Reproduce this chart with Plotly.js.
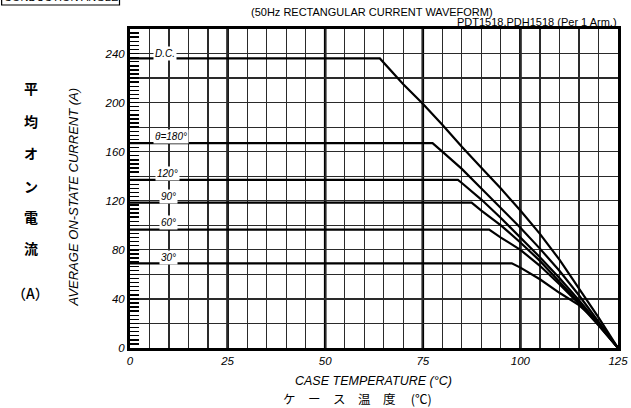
<!DOCTYPE html>
<html>
<head>
<meta charset="utf-8">
<script src="https://cdn.plot.ly/plotly-3.0.1.min.js"></script>
<style>html,body{margin:0;padding:0;background:#fff;}#chart{width:631px;height:408px;}</style>
</head>
<body>
<div id="chart"></div>
<script>
// Case temperature (°C) / average on-state current (A)
const dcT   = [0, 64, 70, 75, 80, 85, 90, 95, 100, 105, 110, 115, 120, 125];
const dcI   = [236, 236, 215, 199, 182, 164, 147, 130, 112, 93, 72, 49, 25, 0];
const a180T = [0, 77.5, 80, 85, 90, 95, 100, 105, 110, 115, 120, 125];
const a180I = [167, 167, 160, 146, 130, 114, 98, 81, 63, 43, 22, 0];
const a120T = [0, 84, 85, 90, 95, 100, 105, 110, 115, 120, 125];
const a120I = [137, 137, 134.5, 121, 106, 90, 74, 57, 39, 20, 0];
const a90T  = [0, 87.5, 90, 95, 100, 105, 110, 115, 120, 125];
const a90I  = [118.5, 118.5, 112, 100, 86, 71, 54, 37, 19, 0];
const a60T  = [0, 92, 95, 100, 105, 110, 115, 120, 125];
const a60I  = [96.5, 96.5, 90, 80, 67, 52, 36, 18.5, 0];
const a30T  = [0, 97.8, 100, 105, 110, 115, 120, 125];
const a30I  = [69, 69, 65.5, 56, 45, 35, 21, 0];

const curveLabels = ['D.C.', 'θ=180°', '120°', '90°', '60°', '30°'];
const labelX = [6, 6, 6.5, 7.5, 7.5, 7.5];
const labelY = [240, 172.5, 142, 123.5, 102, 74];

const xTickVals = [0, 25, 50, 75, 100, 125];
const yTickVals = [0, 20, 40, 60, 80, 100, 120, 140, 160, 180, 200, 220, 240];
const yTickText = ['0', '', '40', '', '80', '', '120', '', '160', '', '200', '', '240'];
const majorX = [25, 50, 75, 100];

const jpChars = ['平', '均', 'オ', 'ン', '電', '流', '（A）'];
const jpY = [88, 121, 153, 186, 217, 248, 293];

const series = [[dcT, dcI], [a180T, a180I], [a120T, a120I], [a90T, a90I], [a60T, a60I], [a30T, a30I]];
const traces = series.map(s => ({
  x: s[0], y: s[1], type: 'scatter', mode: 'lines',
  line: {color: '#000', width: 2.2}, hoverinfo: 'skip', showlegend: false
}));

const W = 631, H = 408;
const ml = 129.5, mr = 13, mt = 29, mb = 60;
const PW = W - ml - mr, PH = H - mt - mb;
const px = x => (x - ml) / PW;
const py = y => 1 - (y - mt) / PH;

const ann = [];
curveLabels.forEach((t, i) => ann.push({
  x: labelX[i], y: labelY[i], xref: 'x', yref: 'y', text: t, showarrow: false,
  xanchor: 'left', yanchor: 'middle', bgcolor: '#fff', borderpad: 1,
  font: {family: 'Liberation Sans, Arial', size: 10, style: 'italic', color: '#000'}
}));
jpChars.forEach((c, i) => ann.push({
  x: px(30), y: py(jpY[i]), xref: 'paper', yref: 'paper', text: c, showarrow: false,
  xanchor: 'center', yanchor: 'middle',
  font: {family: 'Noto Sans CJK JP', size: 14, weight: (i < 6 ? 700 : 500), color: '#000'}
}));
ann.push({
  x: px(72), y: py(197), xref: 'paper', yref: 'paper', text: 'AVERAGE ON-STATE CURRENT (A)',
  showarrow: false, textangle: -90, xanchor: 'center', yanchor: 'middle',
  font: {family: 'Liberation Sans, Arial', size: 13, style: 'italic', color: '#000'}
});
ann.push({
  x: px(373), y: py(381), xref: 'paper', yref: 'paper', text: 'CASE TEMPERATURE (°C)',
  showarrow: false, xanchor: 'center', yanchor: 'middle',
  font: {family: 'Liberation Sans, Arial', size: 12.5, style: 'italic', color: '#000'}
});
ann.push({
  x: px(357), y: py(398), xref: 'paper', yref: 'paper', text: 'ケ　ー　ス　温　度　 (℃)',
  showarrow: false, xanchor: 'center', yanchor: 'middle',
  font: {family: 'Noto Sans CJK JP', size: 12.5, color: '#000'}
});
ann.push({
  x: px(372), y: py(12), xref: 'paper', yref: 'paper', text: '(50Hz RECTANGULAR CURRENT WAVEFORM)',
  showarrow: false, xanchor: 'center', yanchor: 'middle',
  font: {family: 'Liberation Sans, Arial', size: 11, color: '#000'}
});
ann.push({
  x: px(619), y: py(21.5), xref: 'paper', yref: 'paper', text: 'PDT1518,PDH1518 (Per 1 Arm.)',
  showarrow: false, xanchor: 'right', yanchor: 'middle',
  font: {family: 'Liberation Sans, Arial', size: 11, color: '#000'}
});
ann.push({
  x: px(60), y: py(-3), xref: 'paper', yref: 'paper', text: 'CONDUCTION ANGLE',
  showarrow: false, xanchor: 'center', yanchor: 'middle',
  font: {family: 'Liberation Sans, Arial', size: 11, color: '#000'}
});

const shapes = majorX.map(v => ({
  type: 'line', xref: 'x', yref: 'paper', x0: v, x1: v, y0: 0, y1: 1,
  line: {color: '#000', width: 2.6}, layer: 'below'
}));
shapes.push({
  type: 'rect', xref: 'paper', yref: 'paper', x0: px(1), x1: px(119), y0: py(-10), y1: py(5),
  line: {color: '#000', width: 1.2}
});

const layout = {
  width: W, height: H,
  margin: {l: ml, r: mr, t: mt, b: mb, pad: 0},
  paper_bgcolor: '#fff', plot_bgcolor: '#fff',
  showlegend: false,
  xaxis: {
    range: [0, 125], showgrid: true, gridcolor: '#2a2a2a', gridwidth: 1.2,
    tickvals: xTickVals, ticktext: xTickVals.map(String),
    showline: true, linecolor: '#000', linewidth: 3, mirror: true,
    ticks: '', zeroline: false, fixedrange: true,
    tickfont: {family: 'Liberation Sans, Arial', size: 11.5, style: 'italic', color: '#000'},
    minor: {dtick: 5, tick0: 0, showgrid: true, gridcolor: '#2a2a2a', gridwidth: 1.2}
  },
  yaxis: {
    range: [0, 260], tickvals: yTickVals, ticktext: yTickText,
    showgrid: true, gridcolor: '#2a2a2a', gridwidth: 1.2,
    showline: true, linecolor: '#000', linewidth: 3, mirror: true,
    ticks: 'inside', ticklen: 9, tickwidth: 1.4, tickcolor: '#000',
    zeroline: false, fixedrange: true,
    tickfont: {family: 'Liberation Sans, Arial', size: 11.5, style: 'italic', color: '#000'},
    minor: {dtick: 10 / 3, tick0: 0, ticks: 'inside', ticklen: 9, tickwidth: 1.4, tickcolor: '#000', showgrid: false}
  },
  annotations: ann,
  shapes: shapes
};

Plotly.newPlot('chart', traces, layout, {displayModeBar: false, staticPlot: true});
</script>
</body>
</html>
